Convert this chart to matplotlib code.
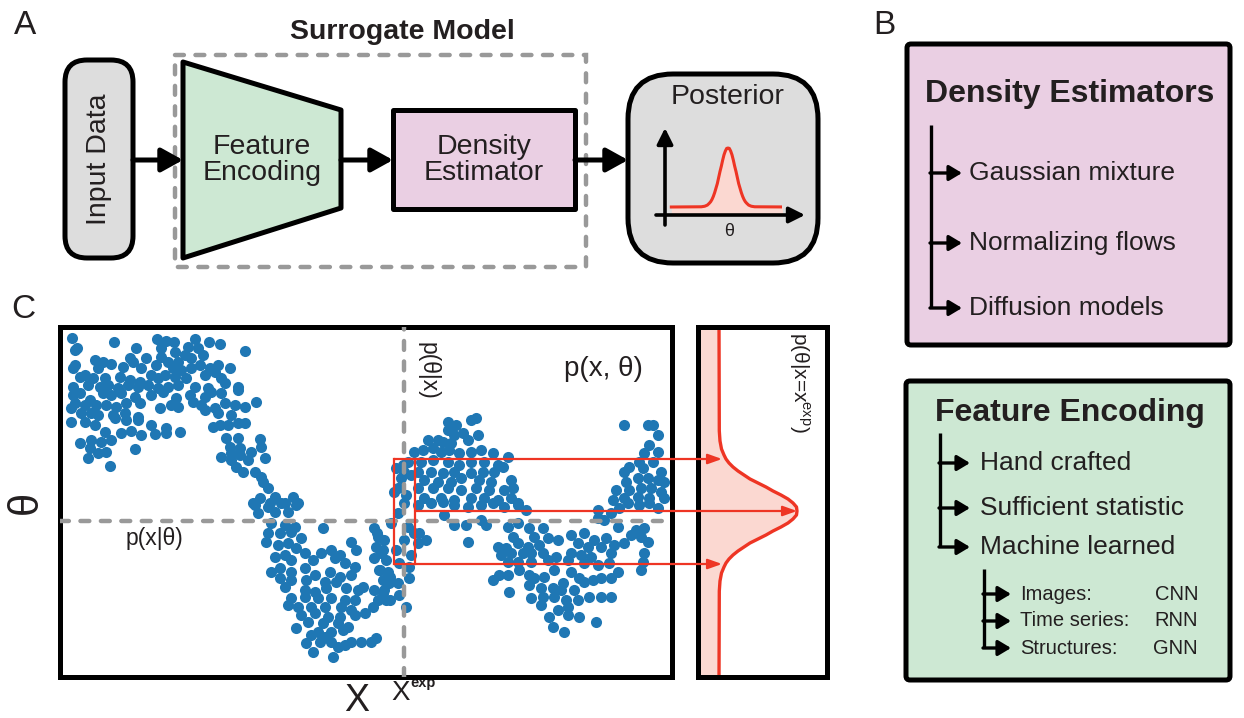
import matplotlib.pyplot as plt
from matplotlib.patches import Rectangle, Polygon, FancyBboxPatch

# ---------------- data ----------------
# joint samples (x, theta) in panel C
points = [
    (14,342),(56,338),(19,332),(17,330),(78,332),(99,341),(108,339),(116,338),(137,341),(151,338),
    (162,336),(187,329),(103,332),(130,333),(140,332),(145,325),(103,323),(117,328),(127,325),(133,322),
    (37,320),(45,318),(53,316),(72,322),(75,318),(88,322),(17,315),(15,312),(40,312),(65,313),
    (83,312),(98,315),(110,318),(120,318),(115,312),(123,310),(133,312),(142,315),(152,312),(160,315),
    (172,312),(22,303),(27,305),(35,302),(47,302),(62,303),(72,300),(82,298),(93,305),(100,302),
    (107,305),(117,303),(128,302),(147,305),(157,308),(163,302),(15,293),(30,295),(42,293),(50,295),
    (60,292),(70,295),(80,293),(90,295),(100,292),(110,293),(120,295),(137,293),(150,292),(167,297),
    (180,293),(15,285),(22,287),(32,280),(45,287),(53,285),(63,287),(77,283),(93,285),(105,288),
    (118,282),(132,285),(147,283),(153,288),(163,287),(180,290),(17,277),(27,275),(38,275),(48,275),
    (58,273),(68,277),(82,277),(102,272),(113,275),(120,273),(135,278),(143,275),(157,272),(167,277),
    (177,275),(187,273),(198,278),(13,272),(23,267),(33,267),(40,265),(55,265),(67,267),(80,263),
    (147,270),(160,267),(173,265),(13,258),(27,258),(37,255),(47,248),(57,262),(68,260),(80,260),
    (93,255),(108,252),(122,248),(155,253),(162,255),(170,255),(180,257),(187,257),(63,247),(73,249),
    (83,245),(97,246),(108,247),(22,237),(33,240),(43,238),(53,240),(32,232),(48,228),(77,231),
    (30,222),(40,227),(52,214),(168,242),(180,242),(202,241),(172,233),(182,232),(203,233),(173,227),
    (182,225),(193,228),(163,223),(173,220),(190,220),(207,222),(178,213),(185,208),(197,208),(203,203),
    (205,198),(210,192),(202,182),(217,183),(235,183),(195,177),(212,177),(227,177),(240,177),
    (197,175),(210,173),(223,177),(238,175),(200,167),(217,168),(230,168),(213,157),(227,155),(237,153),
    (265,152),(210,147),(222,147),(233,148),(243,142),(208,138),(220,135),(230,137),(238,132),(247,127),
    (263,127),(273,130),(282,125),(293,138),(298,130),(297,113),(217,123),(227,125),(233,120),(255,120),
    (277,122),(287,117),(213,108),(222,112),(233,108),(247,112),(257,105),(272,108),(282,103),(293,105),
    (222,102),(233,100),(248,100),(267,98),(278,98),(227,93),(247,90),(257,88),(268,92),(288,92),
    (300,90),(305,93),(233,82),(247,83),(260,82),(273,82),(287,80),(297,80),(230,75),(240,73),
    (253,73),(267,73),(283,73),(293,70),(243,65),(257,67),(270,63),(282,63),(297,65),(307,67),
    (250,58),(265,57),(280,57),(290,53),(238,52),(260,48),(273,48),(285,50),(253,45),(267,43),
    (248,37),(262,38),(273,38),(287,35),(293,38),(303,38),(255,28),(280,33),(275,23),(313,38),
    (316,152),(320,143),(318,133),(326,140),(323,127),(328,120),(316,122),(321,110),(330,108),(325,100),
    (331,97),(316,90),(326,90),(320,80),(328,80),(315,73),(318,42),(341,85),(340,97),(348,73),
    (351,102),(346,177),(340,167),(350,153),(346,140),(338,130),(353,125),(341,117),(333,157),(356,147),
    (361,147),(368,140),(360,137),(351,113),(319,147),(325,130),(322,110),(332,103),(325,87),(332,80),
    (360,175),(373,177),(385,178),(396,175),(410,173),(423,175),(435,177),(446,173),(460,175),(468,170),
    (386,165),(396,155),(408,155),(423,160),(428,155),(450,153),(460,157),(471,152),(410,138),(455,143),
    (476,143),(485,152),(440,133),(448,132),(460,137),(470,133),(481,135),(490,142),(500,140),(443,125),
    (453,127),(465,127),(473,127),(485,127),(498,123),(450,118),(460,118),(473,118),(490,120),(435,100),
    (441,105),(450,105),(451,88),(461,110),(471,105),(476,102),(486,103),(496,110),(505,97),(513,108),
    (521,102),(471,95),(483,92),(495,92),(503,90),(516,90),(526,98),(535,100),(543,102),(553,102),
    (473,82),(485,83),(496,83),(508,80),(520,80),(531,83),(543,83),(553,83),(483,75),(500,70),
    (510,65),(521,63),(538,58),(491,63),(495,53),(506,48),(510,73),(513,145),(520,137),(526,147),
    (530,133),(536,140),(513,127),(523,125),(533,123),(543,133),(548,142),(556,135),(553,127),(510,120),
    (526,117),(540,115),(551,117),(560,108),(566,137),(573,145),(583,143),(590,138),(586,127),(585,118),
    (583,110),(586,152),(578,150),(560,153),(546,160),(540,162),(553,167),(561,172),(570,177),(581,175),
    (591,177),(600,172),(540,170),
    (418,262),(413,260),(390,258),(398,255),(390,250),(405,247),(396,245),(420,245),(370,240),(380,240),
    (385,238),(393,237),(410,240),(356,228),(365,230),(375,232),(383,228),(391,230),(401,227),(413,228),
    (423,230),(435,227),(450,223),(350,218),(363,218),(375,220),(390,218),(401,215),(413,218),(426,218),
    (440,215),(346,208),(360,208),(373,208),(385,207),(396,208),(413,207),(425,208),(436,208),(445,213),
    (366,200),(380,198),(393,198),(403,202),(421,200),(433,198),(453,200),(360,192),(375,192),(390,192),
    (403,190),(418,192),(431,190),(446,190),(455,192),(340,192),(343,202),(345,215),(336,188),(348,185),
    (366,182),(383,182),(396,180),(413,182),(426,182),(440,180),(453,182),(460,177),(338,212),(353,205),
    (566,255),(590,255),(595,255),(600,245),(591,235),(600,228),(586,227),(581,218),(595,218),(571,213),
    (566,208),(585,212),(603,208),(580,202),(590,202),(600,200),(606,198),(568,198),(558,190),(571,190),
    (583,192),(593,192),(603,188),(580,183),(591,182),(606,182),(566,182),(555,180),
]
scatter_x, scatter_theta = zip(*points)

x_exp = 346          # observed data point
x_window = (336, 357)
theta_ref = 159      # horizontal slice p(x|theta)
theta_levels = [221, 169, 116]   # top / centre / bottom of the posterior window

# posterior shape: offset from its centre vs. density
post_offset = [-170, -80, -70, -62, -56, -52, -48, -44, -40, -36, -32, -28, -24, -20, -16, -12, -8, -4, 0,
               4, 8, 12, 16, 20, 24, 28, 32, 36, 40, 44, 48, 52, 56, 62, 70, 80, 190]
post_density = [0, 0.3, 1, 2.5, 5, 7, 10, 14, 19, 25, 31, 39, 47, 54, 62, 69, 74, 77.5, 78,
                77.5, 74, 69, 62, 54, 47, 39, 31, 25, 19, 14, 10, 7, 5, 2.5, 1, 0.3, 0]
post_centre = 169

density_items = ['Gaussian mixture', 'Normalizing flows', 'Diffusion models']
feature_items = ['Hand crafted', 'Sufficient statistic', 'Machine learned']
learned_inputs = ['Images:', 'Time series:', 'Structures:']
learned_nets = ['CNN', 'RNN', 'GNN']

# ---------------- style ----------------
plt.rcParams['font.family'] = ['Liberation Sans', 'DejaVu Sans']
plt.rcParams['mathtext.fontset'] = 'custom'
plt.rcParams['mathtext.rm'] = 'Liberation Sans'
plt.rcParams['mathtext.bf'] = 'Liberation Sans:bold'

TXT = '#231f20'
GRAY = '#dddddd'
GREEN = '#cde8d3'
PINK = '#eacfe3'
RED = '#ee3524'
LRED = '#fbd8d1'
DASHC = '#999999'
BLUE = '#1f77b4'
DASH = (0, (2.0, 2.6))

W, H = 1244, 718
fig = plt.figure(figsize=(W / 100, H / 100), dpi=100)

# drawing canvas in pixel units
cv = fig.add_axes([0, 0, 1, 1])
cv.set_xlim(0, W)
cv.set_ylim(H, 0)
cv.axis('off')


def px_axes(x0, y0, x1, y1):
    return fig.add_axes([x0 / W, 1 - y1 / H, (x1 - x0) / W, (y1 - y0) / H])


def arrow(ax, x0, y0, x1, y1, lw=3.6, hl=0.65, hw=0.36, ms=20, color='black', **kw):
    ax.annotate('', xy=(x1, y1), xytext=(x0, y0),
                arrowprops=dict(arrowstyle=f'-|>,head_length={hl},head_width={hw}', lw=lw,
                                color=color, mutation_scale=ms, shrinkA=0, shrinkB=0),
                annotation_clip=False, **kw)


def tree(x, y_top, ys, x_tip, lw=2.4):
    cv.plot([x, x], [y_top, ys[-1]], color='black', lw=lw, solid_capstyle='butt')
    for y in ys:
        arrow(cv, x - 1, y, x_tip, y, lw=lw, hl=0.55, hw=0.33, ms=14)


# ---------------- panel A ----------------
cv.text(25, 25, 'A', size=24, color=TXT, ha='center', va='center')
cv.text(402, 32, 'Surrogate Model', size=20.5, weight='bold', color=TXT, ha='center', va='center')
cv.add_patch(Rectangle((175, 55), 411, 212, fill=False, ec=DASHC, lw=3.2, ls=DASH, capstyle='round'))
cv.add_patch(FancyBboxPatch((65, 60), 68, 198, boxstyle='round,pad=0,rounding_size=22',
                            fc=GRAY, ec='black', lw=3.6))
cv.text(99, 159, 'Input Data', size=20.5, rotation=90, color=TXT, ha='center', va='center')
cv.add_patch(Polygon([(183, 62), (341, 110), (341, 208), (183, 258)], closed=True,
                     fc=GREEN, ec='black', lw=3.6, joinstyle='round'))
cv.text(262, 160, 'Feature\nEncoding', size=20.5, color=TXT, ha='center', va='center', linespacing=1.0)
cv.add_patch(Rectangle((393, 110), 182, 99, fc=PINK, ec='black', lw=3.6, joinstyle='round'))
cv.text(484, 160, 'Density\nEstimator', size=20.5, color=TXT, ha='center', va='center', linespacing=1.0)
cv.add_patch(FancyBboxPatch((628, 74), 190, 189, boxstyle='round,pad=0,rounding_size=45',
                            fc=GRAY, ec='black', lw=3.6))
cv.text(728, 97, 'Posterior', size=20.5, color=TXT, ha='center', va='center')
cv.text(729, 231, 'θ', size=13, color=TXT, ha='center', va='center')
arrow(cv, 133, 160, 183, 160)
arrow(cv, 341, 160, 393, 160)
arrow(cv, 575, 160, 628, 160)

# mini posterior inside the Posterior box
mini = px_axes(668, 145, 782, 216)
mini.set_xlim(-180, 162)
mini.set_ylim(-11.9, 82)
mini.axis('off')
mini.fill_between(post_offset, -11.9, post_density, color=LRED, lw=0)
mini.plot(post_offset, post_density, color=RED, lw=2.2)
arrow(mini, 665, 225, 665, 128, lw=2.6, hl=0.6, hw=0.3, ms=16, xycoords=cv.transData, textcoords=cv.transData)
arrow(mini, 656, 215, 805, 215, lw=2.6, hl=0.6, hw=0.3, ms=16, xycoords=cv.transData, textcoords=cv.transData)

# ---------------- panel B ----------------
cv.text(884, 25, 'B', size=24, color=TXT, ha='center', va='center')
cv.add_patch(FancyBboxPatch((907, 44), 323, 301, boxstyle='round,pad=0,rounding_size=4',
                            fc=PINK, ec='black', lw=3.6))
cv.text(1070, 94, 'Density Estimators', size=23, weight='bold', color=TXT, ha='center', va='center')
ys_b = [173, 243, 308]
tree(931, 125, ys_b, 962)
for y, s in zip(ys_b, density_items):
    cv.text(969, y, s, size=19, color=TXT, ha='left', va='center')

cv.add_patch(FancyBboxPatch((906, 381), 324, 299, boxstyle='round,pad=0,rounding_size=4',
                            fc=GREEN, ec='black', lw=3.6))
cv.text(1070, 413, 'Feature Encoding', size=23, weight='bold', color=TXT, ha='center', va='center')
ys_f = [463, 508, 547]
tree(940, 433, ys_f, 970)
for y, s in zip(ys_f, feature_items):
    cv.text(980, y, s, size=19, color=TXT, ha='left', va='center')
ys_m = [594, 621, 648]
tree(984, 569, ys_m, 1011)
for y, a, b in zip(ys_m, learned_inputs, learned_nets):
    cv.text(1020, y, a, size=14.5, color=TXT, ha='left', va='center')
    cv.text(1198, y, b, size=14.5, color=TXT, ha='right', va='center')

# ---------------- panel C ----------------
cv.text(23, 310, 'C', size=24, color=TXT, ha='center', va='center')
cv.text(26, 502, 'θ', size=30, rotation=90, color=TXT, ha='center', va='center')
cv.text(357, 701, 'X', size=27, color=TXT, ha='center', va='center')
cv.text(391, 693, 'X', size=20, color=TXT, ha='left', va='center')
cv.text(410, 683, 'exp', size=10.5, weight='bold', color=TXT, ha='left', va='center')

ax_r = px_axes(698, 327, 827, 677)
ax_r.set_xlim(-21, 108)
ax_r.set_ylim(3, 353)
ax_r.set_xticks([])
ax_r.set_yticks([])
for sp in ax_r.spines.values():
    sp.set_linewidth(3.6)
theta_curve = [post_centre + o for o in post_offset]
ax_r.fill_betweenx(theta_curve, -21, post_density, color=LRED, lw=0)
ax_r.plot(post_density, theta_curve, color=RED, lw=2.4)
ax_r.text(80, 298, 'p(θ|x=x$^{\\mathrm{exp}}$)', size=15, rotation=-90, color=TXT,
          ha='center', va='center')

ax_c = px_axes(60, 327, 672, 677)
ax_c.set_zorder(3)
ax_c.set_xlim(2, 614)
ax_c.set_ylim(3, 353)
ax_c.set_xticks([])
ax_c.set_yticks([])
for sp in ax_c.spines.values():
    sp.set_linewidth(3.6)
ax_c.scatter(scatter_x, scatter_theta, s=64, color=BLUE, linewidths=0, zorder=2)
ax_c.axhline(theta_ref, color=DASHC, lw=3.2, ls=DASH, dash_capstyle='round', zorder=3)
ax_c.axvline(x_exp, color=DASHC, lw=3.2, ls=DASH, dash_capstyle='round', zorder=3)
ax_c.text(96, 142, 'p(x|θ)', size=16.5, color=TXT, ha='center', va='center')
ax_c.text(370, 309, 'p(θ|x)', size=16.5, rotation=-90, color=TXT, ha='center', va='center')
ax_c.text(545, 311, 'p(x, θ)', size=20, color=TXT, ha='center', va='center')

# posterior window and arrows into the right panel
for xv in x_window:
    ax_c.plot([xv, xv], [theta_levels[2], theta_levels[0]], color=RED, lw=1.6, zorder=4)
tips = [3, 78, 3]
starts = [x_window[0], x_window[1], x_window[0]]
for th, d, x0 in zip(theta_levels, tips, starts):
    ax_c.annotate('', xy=(d, th), xycoords=ax_r.transData, xytext=(x0, th), textcoords=ax_c.transData,
                  arrowprops=dict(arrowstyle='-|>,head_length=0.7,head_width=0.25', lw=1.6, color=RED,
                                  mutation_scale=12, shrinkA=0, shrinkB=0),
                  annotation_clip=False, zorder=5)

fig.savefig('out.png', dpi=100)
